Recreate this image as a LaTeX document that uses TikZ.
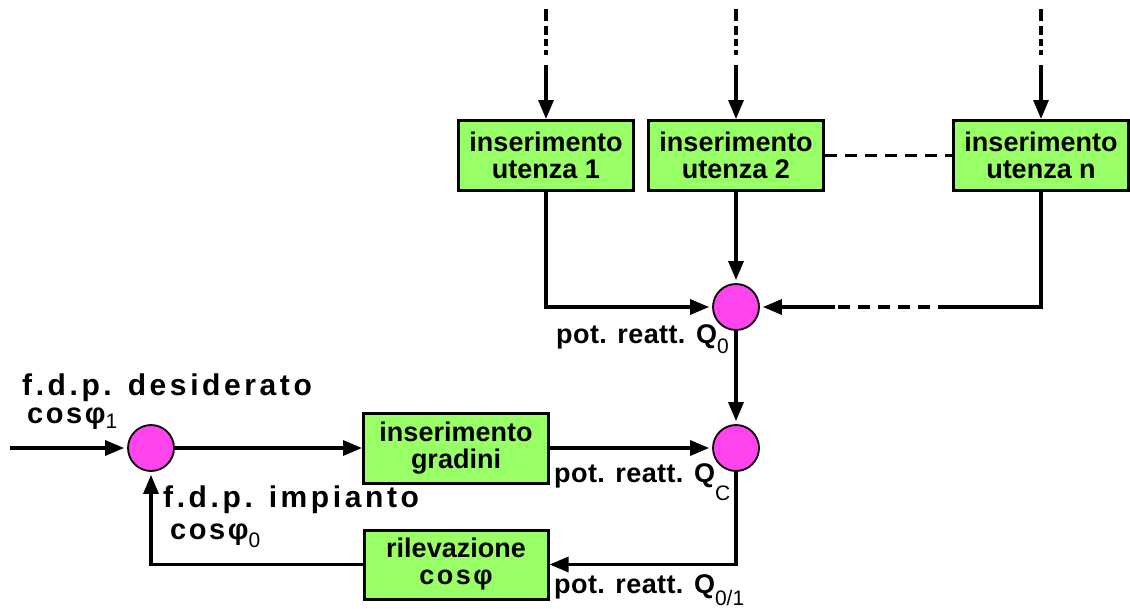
\documentclass[tikz,border=0pt]{standalone}
\usepackage{fontspec}
\setmainfont{Liberation Sans}
\newfontfamily\spacedfont{Liberation Sans}[LetterSpace=12]
\newfontfamily\cosfont{Liberation Sans}[LetterSpace=9]
\newfontfamily\potfont{Liberation Sans}[LetterSpace=1.5]
\usetikzlibrary{arrows.meta}

\definecolor{blockgreen}{RGB}{153,255,102}
\definecolor{sumpink}{RGB}{255,68,238}

\tikzset{
  block/.style={draw=black, line width=3pt, fill=blockgreen,
    minimum width=175pt, minimum height=70pt, inner sep=0pt, align=center,
    font=\fontsize{27}{27}\selectfont\bfseries},
  sumnode/.style={circle, draw=black, fill=sumpink, line width=1.8pt,
    minimum size=46pt, inner sep=0pt},
  wire/.style={line width=3.1pt},
  flow/.style={wire, -{Triangle[length=19pt,width=15pt]}},
  dashedwire/.style={wire, dash pattern=on 12pt off 8pt},
  fadingdash/.style={wire, dash pattern=on 12pt off 5pt on 9pt off 4pt on 7pt off 4pt on 5pt off 40pt},
  txt/.style={anchor=base west, inner sep=0pt},
  bigbold/.style={font=\fontsize{30}{30}\selectfont\spacedfont\bfseries},
}

\newcommand{\subscr}[2]{\raisebox{-#1}{\fontsize{21}{21}\selectfont\mdseries #2}}

\begin{document}
\begin{tikzpicture}[x=1pt, y=-1pt]
  \useasboundingbox (0,0) rectangle (1130,608);

  % user insertion blocks
  \node[block] (u1) at (546,155.5) {inserimento\\utenza 1};
  \node[block] (u2) at (736,155.5) {inserimento\\utenza 2};
  \node[block] (un) at (1041,155.5) {inserimento\\utenza n};

  % step insertion and power-factor measurement
  \node[block, minimum width=185pt] (gr) at (456,448) {inserimento\\gradini};
  \node[block, minimum width=184pt, minimum height=69pt] (rv) at (456,564.5)
    {rilevazione\\{\cosfont cosφ}};

  % summing junctions
  \node[sumnode] (c0) at (736,307) {};
  \node[sumnode] (cC) at (736,448) {};
  \node[sumnode] (cL) at (151,448) {};

  % incoming load requests: dashed from above, solid into the block
  \coordinate (t1) at (546,9);    \coordinate (m1) at (546,55);   \coordinate (s1) at (546,65);
  \coordinate (t2) at (736,9);    \coordinate (m2) at (736,55);   \coordinate (s2) at (736,65);
  \coordinate (tn) at (1041,9);   \coordinate (mn) at (1041,55);  \coordinate (sn) at (1041,65);
  \draw[fadingdash] (t1) -- (m1);
  \draw[fadingdash] (t2) -- (m2);
  \draw[fadingdash] (tn) -- (mn);
  \draw[flow] (s1) -- (u1.north);
  \draw[flow] (s2) -- (u2.north);
  \draw[flow] (sn) -- (un.north);

  % further users in between
  \draw[dashedwire] (u2.east) -- (un.west);

  % loads into the reactive power sum
  \coordinate (k2) at (950,307);
  \coordinate (k1) at (835,307);
  \draw[flow, shorten >=3pt] (u1.south) |- (c0.west);
  \draw[flow, shorten >=3pt] (u2.south) -- (c0.north);
  \draw[wire] (un.south) |- (k2);
  \draw[dashedwire] (k2) -- (k1);
  \draw[flow, shorten >=3pt] (k1) -- (c0.east);

  % control loop
  \coordinate (in) at (10,448);
  \draw[flow, shorten >=3pt] (in) -- (cL.west);
  \draw[flow] (cL.east) -- (gr.west);
  \draw[flow, shorten >=3pt] (gr.east) -- (cC.west);
  \draw[flow, shorten >=3pt] (c0.south) -- (cC.north);
  \draw[flow] (cC.south) |- (rv.east);
  \draw[flow, shorten >=3pt] (rv.west) -| (cL.south);

  % labels
  \node[txt, bigbold] (des) at (22,395) {f.d.p. desiderato};
  \node[txt] (cos1) at (27,423)
    {{\fontsize{29}{29}\selectfont\cosfont\bfseries cosφ}\subscr{5pt}{1}};
  \node[txt, bigbold] (imp) at (163,507) {f.d.p. impianto};
  \node[txt] (cos0) at (170,539)
    {{\fontsize{29}{29}\selectfont\cosfont\bfseries cosφ}\subscr{8pt}{0}};

  \node[txt] (q0) at (556,343)
    {{\fontsize{27}{27}\selectfont\potfont\bfseries pot. reatt. Q}\subscr{10pt}{0}};
  \node[txt] (qc) at (554,482)
    {{\fontsize{27}{27}\selectfont\potfont\bfseries pot. reatt. Q}\subscr{18pt}{C}};
  \node[txt] (q01) at (554,593)
    {{\fontsize{27}{27}\selectfont\potfont\bfseries pot. reatt. Q}\subscr{12pt}{0/1}};
\end{tikzpicture}
\end{document}
